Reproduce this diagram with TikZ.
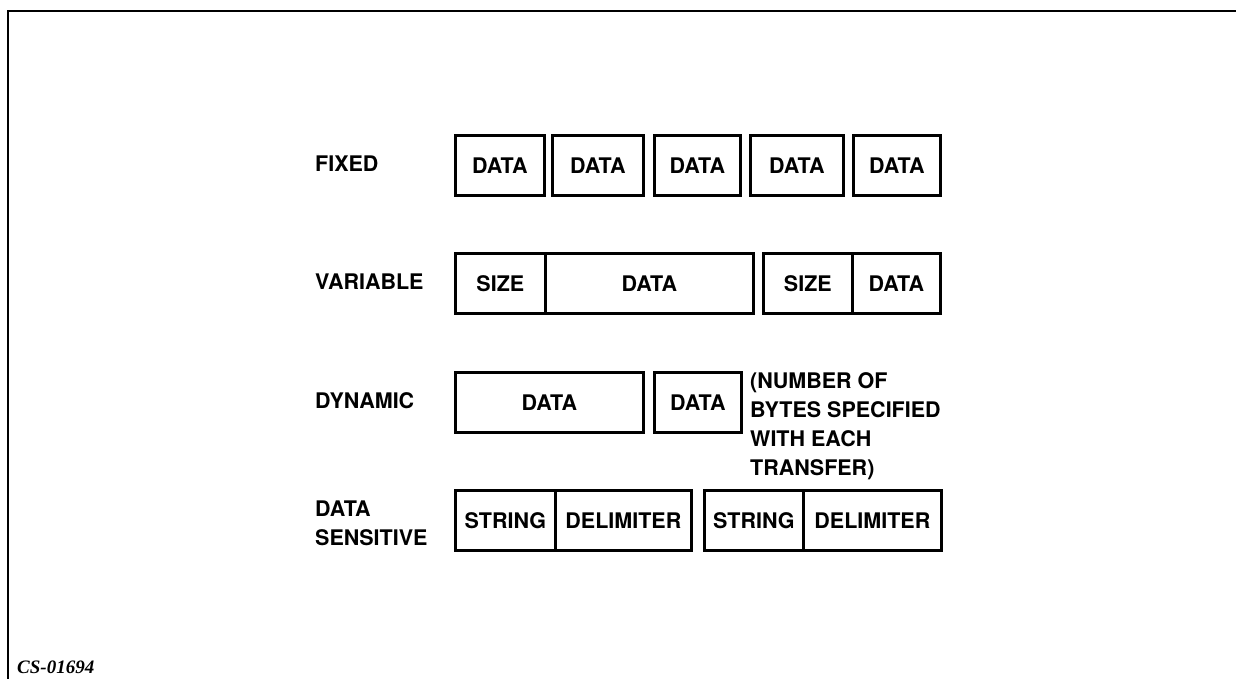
\documentclass[tikz,border=0pt]{standalone}
\usepackage{fontspec}
\setmainfont{TeX Gyre Heros}
\newfontfamily\capfont{Liberation Serif}
\newcommand\bxfont{\fontsize{21.5}{29}\selectfont\bfseries}
\begin{document}
\begin{tikzpicture}[x=1pt,y=-1pt,
  cell/.style={draw, line width=2.7pt, inner sep=0pt, anchor=north west, minimum height=60pt, font=\bxfont},
  lab/.style={inner sep=0pt, anchor=west, align=left, font=\bxfont},
  frame/.style={line width=2.8pt, line join=miter}]
\useasboundingbox (0,0) rectangle (1236,679);
% frame
\coordinate (fb) at (8,679);
\coordinate (ft) at (8,11);
\coordinate (fr) at (1236,11);
\draw[frame] (fb) -- (ft) -- (fr);
% labels
\node[lab] (lfixed) at (315,164) {FIXED};
\node[lab] (lvar) at (315,282) {VARIABLE};
\node[lab] (ldyn) at (315,401) {DYNAMIC};
\node[lab] (lsens) at (315,523.5) {DATA\\SENSITIVE};
% fixed
\node[cell, minimum width=89pt] (f1) at (454,134) {DATA};
\node[cell, minimum width=91pt] (f2) at (551,134) {DATA};
\node[cell, minimum width=86pt] (f3) at (653,134) {DATA};
\node[cell, minimum width=93pt] (f4) at (749,134) {DATA};
\node[cell, minimum width=87pt] (f5) at (852,134) {DATA};
% variable
\node[cell, minimum width=90pt] (v1) at (454,252) {SIZE};
\node[cell, minimum width=208pt] (v2) at (544,252) {DATA};
\node[cell, minimum width=89pt] (v3) at (762,252) {SIZE};
\node[cell, minimum width=88pt] (v4) at (851,252) {DATA};
% dynamic
\node[cell, minimum width=188pt] (d1) at (454,371) {DATA};
\node[cell, minimum width=87pt] (d2) at (653,371) {DATA};
\node[lab] (dnote) at (750,426) {(NUMBER OF\\BYTES SPECIFIED\\WITH EACH\\TRANSFER)};
% data sensitive
\node[cell, minimum width=100pt] (s1) at (454,489) {STRING};
\node[cell, minimum width=136pt] (s2) at (554,489) {DELIMITER};
\node[cell, minimum width=99pt] (s3) at (703,489) {STRING};
\node[cell, minimum width=138pt] (s4) at (802,489) {DELIMITER};
% figure id
\node[anchor=base west, inner sep=0pt, font=\capfont\bfseries\itshape\fontsize{19}{20}\selectfont] (cs) at (17,673) {CS-01694};
\end{tikzpicture}
\end{document}
